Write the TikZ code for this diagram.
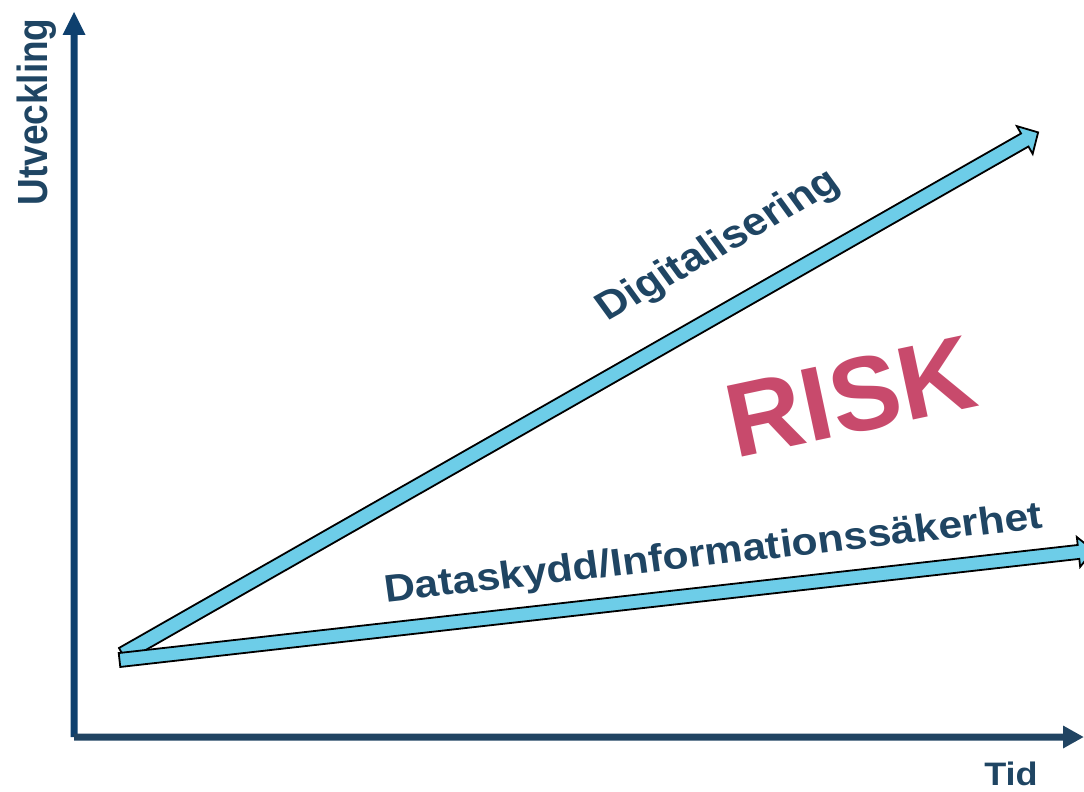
\documentclass[tikz,border=0pt]{standalone}
\usepackage{fontspec}
\setmainfont{Liberation Sans}
\definecolor{arrowfill}{RGB}{109,205,232}
\definecolor{textblue}{RGB}{31,69,99}
\definecolor{yaxisblue}{RGB}{14,64,110}
\definecolor{xaxisblue}{RGB}{33,68,98}
\definecolor{riskred}{RGB}{200,74,108}
\begin{document}
\begin{tikzpicture}[x=1pt,y=-1pt,
  blockarrow/.style={fill=arrowfill, draw=black, line width=1.8pt, line join=miter},
  lbl/.style={text=textblue, inner sep=0pt, outer sep=0pt},
]
\useasboundingbox (0,0) rectangle (1084,792);
\clip (0,0) rectangle (1084,792);
% named points
\coordinate (origin) at (74,737);
% y axis
\fill[yaxisblue] (70.5,737) -- (70.5,35) -- (62.5,35) -- (74,12) -- (85.5,35) -- (77.5,35) -- (77.5,737) -- cycle;
% x axis
\fill[xaxisblue] (74,733.5) -- (1063,733.5) -- (1063,725.5) -- (1083.5,737) -- (1063,748.5) -- (1063,740.5) -- (74,740.5) -- cycle;
% Digitalisering arrow
\begin{scope}[shift={(122.7,654.5)}, rotate=29.7]
  \coordinate (tailA) at (0,0);
  \draw[blockarrow] (0,-7.5) -- (1038.5,-7.5) -- (1038.5,-16) -- (1053.9,0) -- (1038.5,16) -- (1038.5,7.5) -- (0,7.5) -- cycle;
\end{scope}
% Dataskydd arrow
\begin{scope}[shift={(119.5,660)}, rotate=6.43]
  \coordinate (tailB) at (0,0);
  \draw[blockarrow] (0,-7) -- (965.1,-7) -- (965.1,-15) -- (980.1,0) -- (965.1,15) -- (965.1,7) -- (0,7) -- cycle;
\end{scope}
% labels
\node[lbl, font=\fontsize{37}{44}\selectfont\bfseries, anchor=base, xscale=1.14, rotate=90] (utv) at (47.7,112) {Utveckling};
\node[lbl, font=\fontsize{32.5}{39}\selectfont\bfseries, anchor=base, xscale=1.11] (tid) at (1011,785) {Tid};
\node[lbl, font=\fontsize{39}{47}\selectfont\bfseries, anchor=base, xscale=1.13, rotate=32.8] (digi) at (725,255) {Digitalisering};
\node[lbl, font=\fontsize{38.5}{46}\selectfont\bfseries, anchor=base, xscale=1.11, rotate=7.13] (data) at (715,565) {Dataskydd/Informationssäkerhet};
\node[text=riskred, inner sep=0pt, font=\fontsize{105}{120}\selectfont\bfseries, anchor=base, rotate=12] (risk) at (858,432) {RISK};
\end{tikzpicture}
\end{document}
